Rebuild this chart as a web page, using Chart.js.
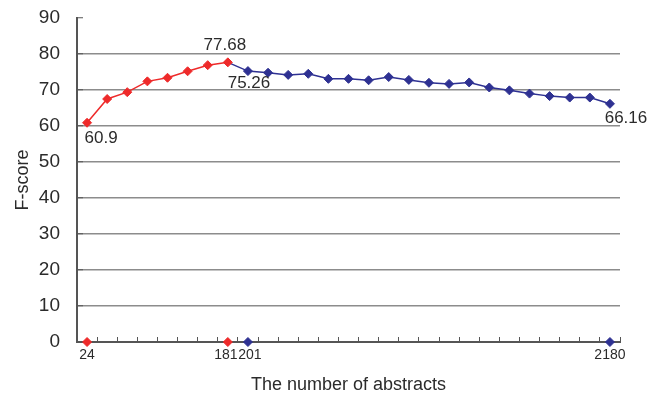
<!DOCTYPE html>
<html>
<head>
<meta charset="utf-8">
<script src="https://cdn.jsdelivr.net/npm/chart.js@4"></script>
<style>
  html, body { margin: 0; padding: 0; background: #fff; }
</style>
</head>
<body>
<canvas id="fscoreChart" width="647" height="396"></canvas>
<script>
// x categories: only a few counts are labelled on the axis
const abstractLabels = [
  "24", "", "", "", "", "", "", "181 ", " 201", "", "", "", "", "",
  "", "", "", "", "", "", "", "", "", "", "", "", "2180"
];

// F-score, first run (24 .. 181 abstracts)
const redScores = [60.9, 67.5, 69.4, 72.4, 73.4, 75.2, 76.9, 77.68];

// F-score, second run (201 .. 2180 abstracts)
const blueScores = [
  75.26, 74.8, 74.2, 74.5, 73.1, 73.1, 72.7, 73.6, 72.8, 72.0,
  71.7, 72.1, 70.7, 69.9, 69.0, 68.3, 67.9, 67.9, 66.16
];

// markers sitting on the x axis at the labelled counts
const redAxisMarks = ["24", "181"];
const blueAxisMarks = ["201", "2180"];

const yTicks = [0, 10, 20, 30, 40, 50, 60, 70, 80, 90];

const RED = "#ee2a2a";
const BLUE = "#2e3192";

document.addEventListener("DOMContentLoaded", function () {
  const n = abstractLabels.length;
  const blueStart = redScores.length; // index of "201"

  // build full-length series with gaps
  const redData = abstractLabels.map((_, i) => (i < redScores.length ? redScores[i] : null));
  // blue line links back to the last red point
  const blueData = abstractLabels.map((_, i) => {
    if (i === blueStart - 1) return redScores[redScores.length - 1];
    if (i >= blueStart) return blueScores[i - blueStart];
    return null;
  });
  const redBase = abstractLabels.map((l) => (redAxisMarks.includes(l.trim()) ? 0 : null));
  const blueBase = abstractLabels.map((l) => (blueAxisMarks.includes(l.trim()) ? 0 : null));

  // value labels next to selected points
  const pointNotes = [
    { ds: 0, idx: 0, text: "60.9", dx: 14, dy: 16 },
    { ds: 0, idx: blueStart - 1, text: "77.68", dx: -3, dy: -17 },
    { ds: 1, idx: blueStart, text: "75.26", dx: 1, dy: 12 },
    { ds: 1, idx: n - 1, text: "66.16", dx: 16, dy: 14 }
  ];

  const notesPlugin = {
    id: "notes",
    afterDatasetsDraw(chart) {
      const ctx = chart.ctx;
      ctx.save();
      ctx.font = "17px 'Liberation Sans', Arial, sans-serif";
      ctx.fillStyle = "#2b2b2b";
      ctx.textAlign = "center";
      ctx.textBaseline = "middle";
      pointNotes.forEach((p) => {
        const el = chart.getDatasetMeta(p.ds).data[p.idx];
        ctx.fillText(p.text, el.x + p.dx, el.y + p.dy);
      });
      ctx.restore();
    }
  };

  const ctx = document.getElementById("fscoreChart").getContext("2d");
  new Chart(ctx, {
    type: "line",
    data: {
      labels: abstractLabels,
      datasets: [
        {
          label: "run 1",
          data: redData,
          borderColor: RED,
          backgroundColor: RED,
          borderWidth: 1.5,
          pointStyle: "rectRot",
          pointRadius: 4.5,
          pointBorderWidth: 1,
          pointBackgroundColor: RED,
          pointBorderColor: RED,
          order: 1
        },
        {
          label: "run 2",
          data: blueData,
          borderColor: BLUE,
          backgroundColor: BLUE,
          borderWidth: 1.5,
          pointStyle: "rectRot",
          pointRadius: (c) => (c.dataIndex === blueStart - 1 ? 0 : 4.5),
          pointBorderWidth: 1,
          pointBackgroundColor: BLUE,
          pointBorderColor: BLUE,
          order: 2
        },
        {
          label: "base 1",
          data: redBase,
          showLine: false,
          pointStyle: "rectRot",
          pointRadius: 4.5,
          pointBorderWidth: 1,
          pointBackgroundColor: RED,
          pointBorderColor: RED,
          clip: false,
          order: 0
        },
        {
          label: "base 2",
          data: blueBase,
          showLine: false,
          pointStyle: "rectRot",
          pointRadius: 4.5,
          pointBorderWidth: 1,
          pointBackgroundColor: BLUE,
          pointBorderColor: BLUE,
          clip: false,
          order: 0
        }
      ]
    },
    options: {
      responsive: false,
      animation: false,
      events: [],
      layout: { padding: { top: 18, right: 27, left: 0, bottom: 0 } },
      plugins: {
        legend: { display: false },
        tooltip: { enabled: false }
      },
      scales: {
        x: {
          type: "category",
          offset: true,
          grid: {
            offset: true,
            drawOnChartArea: false,
            drawTicks: true,
            tickLength: -5,
            tickColor: "#555",
            tickWidth: 1
          },
          border: { color: "#555", width: 2 },
          ticks: {
            autoSkip: false,
            maxRotation: 0,
            padding: 10,
            color: "#2b2b2b",
            font: { family: "'Liberation Sans', Arial, sans-serif", size: 14 }
          },
          title: {
            display: true,
            text: "The number of abstracts",
            color: "#2b2b2b",
            font: { family: "'Liberation Sans', Arial, sans-serif", size: 18 },
            padding: { top: 0, bottom: 0 }
          },
          afterFit(scale) {
            scale.height = 54;
            scale.paddingLeft = 0;
            scale.paddingRight = 0;
          }
        },
        y: {
          min: yTicks[0],
          max: yTicks[yTicks.length - 1],
          afterBuildTicks(scale) {
            scale.ticks = yTicks.map((v) => ({ value: v }));
          },
          grid: {
            drawTicks: true,
            tickLength: -6,
            tickColor: "#555",
            tickWidth: 1,
            lineWidth: 1.5,
            color: (c) =>
              c.tick && (c.tick.value === 90 || c.tick.value === 0) ? "rgba(0,0,0,0)" : "#8c8c8c"
          },
          border: { color: "#555", width: 2 },
          ticks: {
            padding: 23,
            color: "#2b2b2b",
            font: { family: "'Liberation Sans', Arial, sans-serif", size: 19 }
          },
          title: {
            display: true,
            text: "F-score",
            color: "#2b2b2b",
            font: { family: "'Liberation Sans', Arial, sans-serif", size: 18 },
            padding: { top: 12, bottom: 0 }
          },
          afterFit(scale) {
            scale.width = 77;
            scale.paddingTop = 0;
            scale.paddingBottom = 0;
          }
        }
      }
    },
    plugins: [notesPlugin]
  });
});
</script>
</body>
</html>
